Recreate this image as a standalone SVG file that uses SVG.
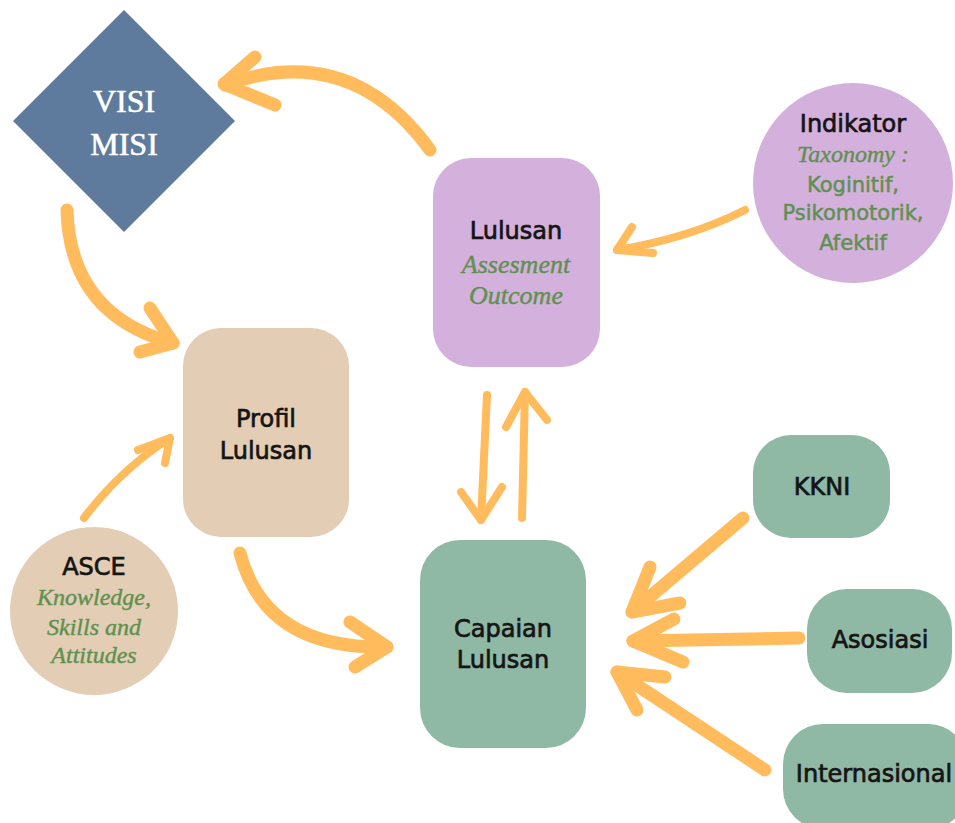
<svg xmlns="http://www.w3.org/2000/svg" width="955" height="823" viewBox="0 0 955 823">
<style>
.lbl{font-family:"DejaVu Sans","Liberation Sans",sans-serif;font-size:24px;fill:#151515;stroke:#151515;stroke-width:0.7;text-anchor:middle}
.it{font-family:"Liberation Serif","DejaVu Serif",serif;font-style:italic;font-size:24px;fill:#5E9150;stroke:#5E9150;stroke-width:0.4;text-anchor:middle}
.gr{font-family:"DejaVu Sans","Liberation Sans",sans-serif;font-size:21px;fill:#5E9150;stroke:#5E9150;stroke-width:0.5;text-anchor:middle}
.vm{font-family:"Liberation Serif","DejaVu Serif",serif;font-size:32px;fill:#ffffff;stroke:#ffffff;stroke-width:0.6;text-anchor:middle}
.thick{fill:none;stroke:#FFBB5C;stroke-width:13;stroke-linecap:round;stroke-linejoin:round}
.thin{fill:none;stroke:#FFBB5C;stroke-width:8;stroke-linecap:round;stroke-linejoin:round}
.purple{fill:#D4B0DC}.beige{fill:#E3CDB4}.green{fill:#8FB8A5}
</style>
<rect width="955" height="823" fill="#ffffff"/>
<g id="connectors">
<path class="thick" d="M430 150 Q350 40 225 85"/><path class="thick" d="M255 57 L224 84 L275 105"/>
<path class="thick" d="M67 210 Q70 315 173 343"/><path class="thick" d="M150 308 L173 343 L140 352"/>
<path class="thick" d="M240 553 Q265 650 387 647"/><path class="thick" d="M350 622 L387 647 L355 667"/>
<path class="thick" d="M743 518 L632 612"/><path class="thick" d="M650 567 L632 612 L680 603"/>
<path class="thick" d="M799 638 L633 641"/><path class="thick" d="M674 619 L633 641 L683 662"/>
<path class="thick" d="M765 770 L617 672"/><path class="thick" d="M665 677 L617 672 L637 710"/>
<path class="thin" d="M745 210 Q690 238 617 250"/><path class="thin" d="M632 227 L617 250 L653 253"/>
<path class="thin" d="M84 518 Q120 470 170 438"/><path class="thin" d="M138 450 L170 438 L165 463"/>
<path class="thin" d="M487 395 L481 520"/><path class="thin" d="M461 492 L481 520 L502 487"/>
<path class="thin" d="M522 518 L525 392"/><path class="thin" d="M506 427 L525 392 L547 420"/>
</g>
<g id="visimisi">
<polygon points="124,10 235,121 124,232 13,121" fill="#5E7A9D"/>
<text class="vm" x="124" y="112">VISI</text>
<text class="vm" x="124" y="155">MISI</text>
</g>
<g id="lulusan">
<rect class="purple" x="433" y="158" width="167" height="209" rx="38"/>
<text class="lbl" x="516" y="239">Lulusan</text>
<text class="it" x="516" y="273" style="font-size:26px">Assesment</text>
<text class="it" x="516" y="304" style="font-size:26px">Outcome</text>
</g>
<g id="indikator">
<circle class="purple" cx="853" cy="183" r="100"/>
<text class="lbl" x="853" y="132">Indikator</text>
<text class="it" x="853" y="162">Taxonomy :</text>
<text class="gr" x="853" y="192">Koginitif,</text>
<text class="gr" x="853" y="220">Psikomotorik,</text>
<text class="gr" x="853" y="250">Afektif</text>
</g>
<g id="profil">
<rect class="beige" x="183" y="328" width="166" height="209" rx="38"/>
<text class="lbl" x="266" y="427">Profil</text>
<text class="lbl" x="266" y="459">Lulusan</text>
</g>
<g id="asce">
<circle class="beige" cx="94" cy="611" r="84"/>
<text class="lbl" x="94" y="575">ASCE</text>
<text class="it" x="94" y="605">Knowledge,</text>
<text class="it" x="94" y="635">Skills and</text>
<text class="it" x="94" y="663">Attitudes</text>
</g>
<g id="capaian">
<rect class="green" x="420" y="540" width="166" height="208" rx="40"/>
<text class="lbl" x="503" y="637">Capaian</text>
<text class="lbl" x="503" y="668">Lulusan</text>
</g>
<g id="kkni">
<rect class="green" x="753" y="435" width="137" height="103" rx="38"/>
<text class="lbl" x="822" y="495">KKNI</text>
</g>
<g id="asosiasi">
<rect class="green" x="807" y="589" width="145" height="104" rx="40"/>
<text class="lbl" x="880" y="648">Asosiasi</text>
</g>
<g id="internasional">
<rect class="green" x="783" y="724" width="185" height="105" rx="40"/>
<text class="lbl" x="874" y="782">Internasional</text>
</g>
</svg>
